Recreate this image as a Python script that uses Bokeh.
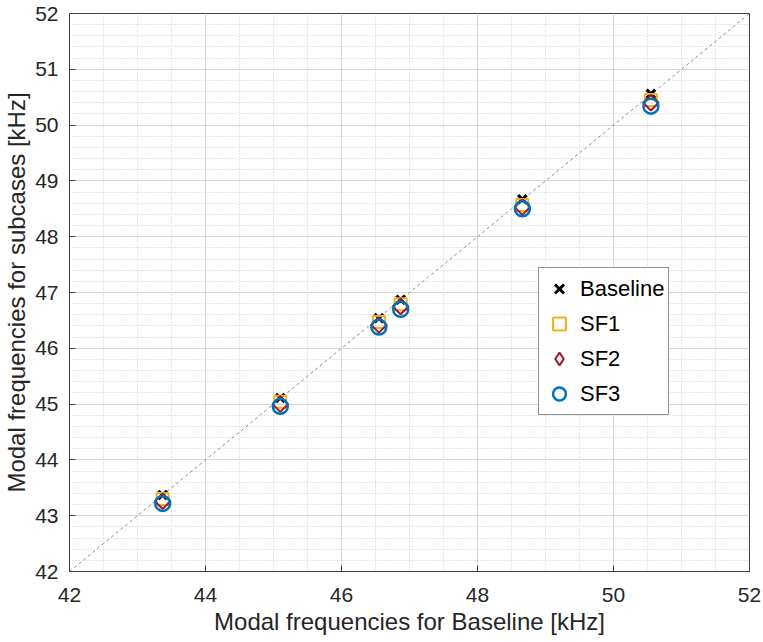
import math
from bokeh.plotting import figure
from bokeh.models import SingleIntervalTicker, Range1d, Legend, LegendItem
from bokeh.embed import file_html
from bokeh.resources import INLINE

baseline_x = [43.37, 45.10, 46.55, 46.87, 48.66, 50.55]
baseline_y = [43.37, 45.11, 46.54, 46.87, 48.67, 50.56]
sf1_y = [43.30, 45.04, 46.47, 46.79, 48.57, 50.45]
sf2_y = [43.26, 45.00, 46.42, 46.75, 48.53, 50.40]
sf3_y = [43.22, 44.96, 46.38, 46.70, 48.50, 50.34]
diag = [42, 52]

FONT = "Liberation Sans"
TXT = "#262626"

p = figure(frame_width=680, frame_height=558, min_border_left=62, min_border_right=13,
           min_border_top=13, min_border_bottom=8,
           x_range=Range1d(42, 52), y_range=Range1d(42, 52),
           output_backend="svg", toolbar_location=None,
           x_axis_label="Modal frequencies for Baseline [kHz]",
           y_axis_label="Modal frequencies for subcases [kHz]")
p.background_fill_color = "white"
p.border_fill_color = "white"
p.outline_line_color = "#404040"
p.outline_line_width = 1

p.xaxis.ticker = SingleIntervalTicker(interval=2, num_minor_ticks=4)
p.yaxis.ticker = SingleIntervalTicker(interval=1, num_minor_ticks=5)
for ax in (p.xaxis, p.yaxis):
    ax.axis_line_color = "#404040"
    ax.major_tick_line_color = "#404040"
    ax.major_tick_in = 6
    ax.major_tick_out = 0
    ax.minor_tick_line_color = None
    ax.major_label_text_font = FONT
    ax.major_label_text_font_size = "21px"
    ax.major_label_text_color = TXT
    ax.axis_label_text_font = FONT
    ax.axis_label_text_font_size = "24px"
    ax.axis_label_text_font_style = "normal"
    ax.axis_label_text_color = TXT
p.xaxis.major_label_standoff = 12
p.yaxis.major_label_standoff = 7
p.xaxis.axis_label_standoff = 3
p.yaxis.axis_label_standoff = 2

for g in (p.xgrid, p.ygrid):
    g.grid_line_color = "#d9d9d9"
    g.grid_line_width = 1
    g.minor_grid_line_color = "#cccccc"
    g.minor_grid_line_dash = "1 2"
    g.minor_grid_line_width = 1

p.line(diag, diag, line_color="#8c8c8c", line_dash="3 3", line_width=1)

r0 = p.scatter(baseline_x, baseline_y, marker="x", size=12, line_color="black", line_width=3)
r1 = p.scatter(baseline_x, sf1_y, marker="square", size=12, line_color="#EDB120", fill_color=None, line_width=2)
r2 = p.scatter(baseline_x, sf2_y, marker="square", size=11, angle=math.pi / 4,
               line_color="#A2142F", fill_color=None, line_width=2)
r2_key = p.scatter(baseline_x, sf2_y, marker="diamond", size=19, line_color="#A2142F",
                   fill_color=None, line_width=2, visible=False)
r3 = p.scatter(baseline_x, sf3_y, marker="circle", size=15, line_color="#0072BD", fill_color=None, line_width=2.5)

legend = Legend(items=[LegendItem(label="Baseline", renderers=[r0]),
                       LegendItem(label="SF1", renderers=[r1]),
                       LegendItem(label="SF2", renderers=[r2_key]),
                       LegendItem(label="SF3", renderers=[r3])],
                location=(469, 156))
legend.border_line_color = "#262626"
legend.border_line_width = 1
legend.background_fill_color = "white"
legend.background_fill_alpha = 1
legend.inactive_fill_alpha = 0
legend.label_text_font = FONT
legend.label_text_font_size = "22px"
legend.label_text_color = "black"
legend.glyph_width = 32
legend.label_height = 33
legend.glyph_height = 33
legend.spacing = 2
legend.padding = 4
legend.margin = 0
legend.label_standoff = 5
p.add_layout(legend, "center")

open("out.html", "w").write(file_html(p, INLINE))
